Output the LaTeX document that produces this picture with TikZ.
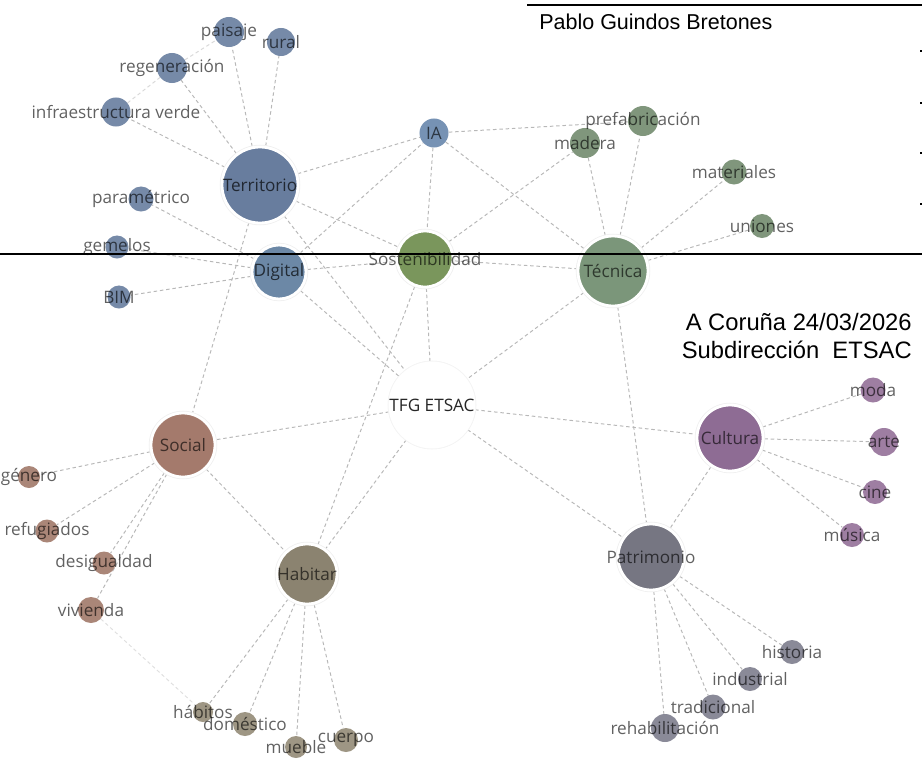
\documentclass[tikz,border=0pt]{standalone}
\usepackage{fontspec}
\setmainfont{Liberation Sans}
\newfontfamily\lblfont{Open Sans}
\usetikzlibrary{backgrounds}

\definecolor{cterr}{RGB}{104,125,158}
\definecolor{cdig}{RGB}{108,136,166}
\definecolor{cia}{RGB}{118,146,180}
\definecolor{cazul}{RGB}{118,138,168}
\definecolor{csost}{RGB}{122,150,92}
\definecolor{ctec}{RGB}{123,150,122}
\definecolor{cverde}{RGB}{128,150,124}
\definecolor{csoc}{RGB}{164,122,108}
\definecolor{cmarron}{RGB}{170,134,120}
\definecolor{chab}{RGB}{139,131,112}
\definecolor{cpardo}{RGB}{158,150,132}
\definecolor{ccult}{RGB}{142,108,148}
\definecolor{cmorado}{RGB}{158,126,162}
\definecolor{cpat}{RGB}{118,118,130}
\definecolor{cgris}{RGB}{138,138,152}

\tikzset{
    kw/.style={circle, inner sep=0pt, fill=#1},
    rad/.style={minimum size=#1*0.05cm},
    hub/.style={kw=#1, draw=white, line width=2pt, preaction={draw=black!6, line width=3.2pt}},
    lbl/.style={font=\lblfont\fontsize{12.2}{14}\selectfont, text=black, text opacity=0.62, inner sep=0pt},
    link/.style={draw=black!28, line width=0.7pt, dash pattern=on 2.5pt off 2pt},
}

\begin{document}
\begin{tikzpicture}[x=0.025cm, y=-0.025cm]
    \useasboundingbox (0,0) rectangle (922,763);

    %Nodos principales
    \node[hub=white, rad=42, preaction={draw=black!4, line width=3.2pt},
        label={[lbl, text=black!85, text opacity=1]center:TFG ETSAC}] (tfg) at (432,405) {};
    \node[hub=cterr, rad=38, label={[lbl, text opacity=0.68]center:Territorio}] (terr) at (260,185) {};
    \node[hub=cdig, rad=27, label={[lbl, text opacity=0.68]center:Digital}] (dig) at (279,272) {};
    \node[kw=cia, rad=14.5, label={[lbl]center:IA}] (ia) at (434,133) {};
    \node[hub=csost, rad=28, label={[lbl]center:Sostenibilidad}] (sost) at (425,259) {};
    \node[hub=ctec, rad=35, label={[lbl]center:Técnica}] (tec) at (613,271) {};
    \node[hub=csoc, rad=32, label={[lbl]center:Social}] (soc) at (183,445) {};
    \node[hub=chab, rad=30, label={[lbl]center:Habitar}] (hab) at (307,574) {};
    \node[hub=ccult, rad=33, label={[lbl]center:Cultura}] (cult) at (730,438) {};
    \node[hub=cpat, rad=33, label={[lbl]center:Patrimonio}] (pat) at (651,557) {};

    %Territorio y digital
    \node[kw=cazul, rad=15, label={[lbl]center:paisaje}] (paisaje) at (229,32) {};
    \node[kw=cazul, rad=14, label={[lbl]center:rural}] (rural) at (281,42) {};
    \node[kw=cazul, rad=15, label={[lbl]center:regeneración}] (regen) at (172,68) {};
    \node[kw=cazul, rad=14.5, label={[lbl]center:infraestructura verde}] (infra) at (116,112) {};
    \node[kw=cazul, rad=12.5, label={[lbl]center:paramétrico}] (param) at (141,199) {};
    \node[kw=cazul, rad=11.5, label={[lbl]center:gemelos}] (gemelos) at (117,247) {};
    \node[kw=cazul, rad=11.5, label={[lbl]center:BIM}] (bim) at (119,297) {};

    %Tecnica
    \node[kw=cverde, rad=15, label={[lbl]center:madera}] (madera) at (585,143) {};
    \node[kw=cverde, rad=15, label={[lbl]center:prefabricación}] (prefab) at (643,121) {};
    \node[kw=cverde, rad=12.5, label={[lbl]center:materiales}] (mater) at (734,172) {};
    \node[kw=cverde, rad=12, label={[lbl]center:uniones}] (uniones) at (762,226) {};

    %Cultura
    \node[kw=cmorado, rad=12.5, label={[lbl]center:moda}] (moda) at (873,390) {};
    \node[kw=cmorado, rad=14, label={[lbl]center:arte}] (arte) at (884,442) {};
    \node[kw=cmorado, rad=12, label={[lbl]center:cine}] (cine) at (875,492) {};
    \node[kw=cmorado, rad=12, label={[lbl]center:música}] (musica) at (852,535) {};

    %Patrimonio
    \node[kw=cgris, rad=12, label={[lbl]center:historia}] (hist) at (792,652) {};
    \node[kw=cgris, rad=12, label={[lbl]center:industrial}] (indus) at (750,679) {};
    \node[kw=cgris, rad=12.5, label={[lbl]center:tradicional}] (trad) at (713,707) {};
    \node[kw=cgris, rad=14, label={[lbl]center:rehabilitación}] (rehab) at (665,728) {};

    %Social
    \node[kw=cmarron, rad=11, label={[lbl]center:género}] (genero) at (29,477) {};
    \node[kw=cmarron, rad=11.5, label={[lbl]center:refugiados}] (refug) at (47,531) {};
    \node[kw=cmarron, rad=11.5, label={[lbl]center:desigualdad}] (desig) at (104,563) {};
    \node[kw=cmarron, rad=13, label={[lbl]center:vivienda}] (viv) at (91,610) {};

    %Habitar
    \node[kw=cpardo, rad=10, label={[lbl]center:hábitos}] (habitos) at (203,712) {};
    \node[kw=cpardo, rad=12, label={[lbl]center:doméstico}] (domest) at (245,724) {};
    \node[kw=cpardo, rad=11, label={[lbl]center:mueble}] (mueble) at (296,747) {};
    \node[kw=cpardo, rad=12, label={[lbl]center:cuerpo}] (cuerpo) at (346,740) {};

    %Enlaces
    \begin{scope}[on background layer]
        \draw[link] (terr) -- (paisaje);
        \draw[link] (terr) -- (rural);
        \draw[link] (terr) -- (regen);
        \draw[link] (terr) -- (infra);
        \draw[link, draw=black!15] (infra) -- (regen);
        \draw[link, draw=black!15] (regen) -- (paisaje);
        \draw[link] (terr) -- (ia);
        \draw[link] (terr) -- (sost);
        \draw[link] (terr) -- (tfg);
        \draw[link] (terr) -- (soc);

        \draw[link] (dig) -- (param);
        \draw[link] (dig) -- (gemelos);
        \draw[link] (dig) -- (bim);
        \draw[link] (dig) -- (ia);
        \draw[link] (dig) -- (sost);
        \draw[link] (dig) -- (tfg);

        \draw[link] (ia) -- (prefab);
        \draw[link] (ia) -- (tec);
        \draw[link] (ia) -- (sost);

        \draw[link] (sost) -- (madera);
        \draw[link] (sost) -- (tec);
        \draw[link] (sost) -- (tfg);
        \draw[link] (sost) -- (hab);

        \draw[link] (tec) -- (madera);
        \draw[link] (tec) -- (prefab);
        \draw[link] (tec) -- (mater);
        \draw[link] (tec) -- (uniones);
        \draw[link] (tec) -- (tfg);
        \draw[link] (tec) -- (pat);

        \draw[link] (tfg) -- (soc);
        \draw[link] (tfg) -- (hab);
        \draw[link] (tfg) -- (cult);
        \draw[link] (tfg) -- (pat);

        \draw[link] (soc) -- (genero);
        \draw[link] (soc) -- (refug);
        \draw[link] (soc) -- (desig);
        \draw[link] (soc) -- (viv);
        \draw[link] (soc) -- (hab);
        \draw[link, draw=black!12] (viv) -- (habitos);

        \draw[link] (hab) -- (habitos);
        \draw[link] (hab) -- (domest);
        \draw[link] (hab) -- (mueble);
        \draw[link] (hab) -- (cuerpo);

        \draw[link] (cult) -- (moda);
        \draw[link] (cult) -- (arte);
        \draw[link] (cult) -- (cine);
        \draw[link] (cult) -- (musica);
        \draw[link] (cult) -- (pat);

        \draw[link] (pat) -- (hist);
        \draw[link] (pat) -- (indus);
        \draw[link] (pat) -- (trad);
        \draw[link] (pat) -- (rehab);
    \end{scope}

    %Cabecera
    \draw[line width=1.5pt] (527,5) -- (922,5);
    \node[anchor=west, inner sep=0pt, font=\fontsize{15.3}{18}\selectfont] (autor) at (539,22) {Pablo Guindos Bretones};
    \node[anchor=east, align=right, inner sep=0pt, font=\fontsize{16.9}{19.8}\selectfont] (fecha) at (912,336)
        {A Coruña 24/03/2026\\Subdirección\ \ ETSAC};
    \fill (919.5,50) rectangle (921.5,52);
    \fill (919.5,102) rectangle (921.5,104);
    \fill (919.5,152) rectangle (921.5,154);
    \fill (919.5,203) rectangle (921.5,205);

    %Linea central
    \draw[line width=1.4pt] (0,254) -- (922,254);
\end{tikzpicture}
\end{document}
